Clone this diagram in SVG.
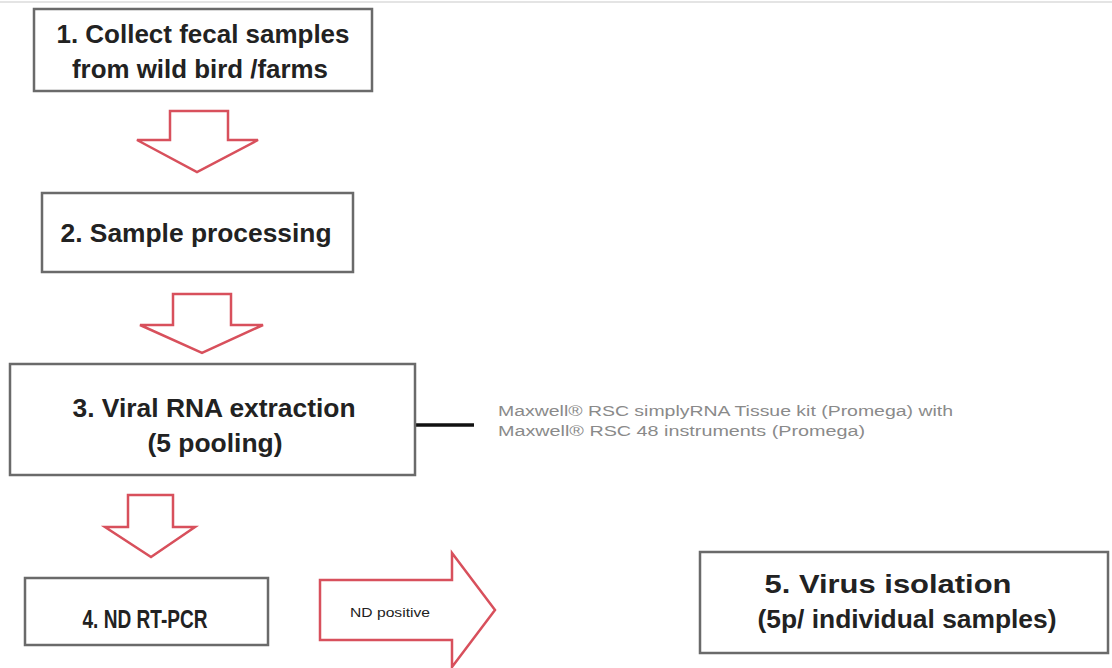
<svg xmlns="http://www.w3.org/2000/svg" width="1112" height="668" viewBox="0 0 1112 668">
<style>
.box{fill:#fff;stroke:#6a6a6a;stroke-width:2.5}
.t{font-family:"Liberation Sans",Arial,sans-serif;font-weight:bold;font-size:25px;fill:#222;text-anchor:middle}
.arr{fill:#fff;stroke:#d8505c;stroke-width:2.5;stroke-linejoin:miter}
.note{font-family:"Liberation Sans",Arial,sans-serif;font-size:14px;fill:#8a8a8a}
.lbl{font-family:"Liberation Sans",Arial,sans-serif;font-size:13px;fill:#222}
</style>
<rect width="1112" height="668" fill="#fff"/>
<line x1="0" y1="2" x2="1112" y2="2" stroke="#e4e4e4" stroke-width="2"/>
<g id="connectors">
<path class="arr" d="M170,111 H228 V140 H258 L197,172 L137,140 H170 Z"/>
<path class="arr" d="M173,294 H231 V325 H263 L202,353 L140,325 H173 Z"/>
<path class="arr" d="M128,495 H173 V527 H195 L151,557 L105,527 H128 Z"/>
<path class="arr" d="M320,580 H452 V553 L495,610 L452,667 V640 H320 Z"/>
<line x1="415" y1="425" x2="474" y2="425" stroke="#111" stroke-width="3.5"/>
<text class="lbl" x="350" y="617" textLength="80" lengthAdjust="spacingAndGlyphs">ND positive</text>
</g>
<g id="n1">
<rect class="box" x="34" y="9" width="338" height="82"/>
<text class="t" x="203" y="43" textLength="293" lengthAdjust="spacingAndGlyphs">1. Collect fecal samples</text>
<text class="t" x="200" y="78" textLength="256" lengthAdjust="spacingAndGlyphs">from wild bird /farms</text>
</g>
<g id="n2">
<rect class="box" x="42" y="193" width="311" height="79"/>
<text class="t" x="196" y="242" textLength="271" lengthAdjust="spacingAndGlyphs">2. Sample processing</text>
</g>
<g id="n3">
<rect class="box" x="10" y="364" width="405" height="111"/>
<text class="t" x="214" y="417" textLength="283" lengthAdjust="spacingAndGlyphs">3. Viral RNA extraction</text>
<text class="t" x="215" y="452" textLength="135" lengthAdjust="spacingAndGlyphs">(5 pooling)</text>
</g>
<g id="note">
<text class="note" x="498" y="416" textLength="455" lengthAdjust="spacingAndGlyphs">Maxwell® RSC simplyRNA Tissue kit (Promega) with</text>
<text class="note" x="498" y="436" textLength="367" lengthAdjust="spacingAndGlyphs">Maxwell® RSC 48 instruments (Promega)</text>
</g>
<g id="n4">
<rect class="box" x="25" y="578" width="243" height="67"/>
<text class="t" x="145" y="628" textLength="125" lengthAdjust="spacingAndGlyphs">4. ND RT-PCR</text>
</g>
<g id="n5">
<rect class="box" x="700" y="552" width="408" height="101"/>
<text class="t" x="888" y="593" textLength="247" lengthAdjust="spacingAndGlyphs">5. Virus isolation</text>
<text class="t" x="907" y="628" textLength="299" lengthAdjust="spacingAndGlyphs">(5p/ individual samples)</text>
</g>
</svg>
